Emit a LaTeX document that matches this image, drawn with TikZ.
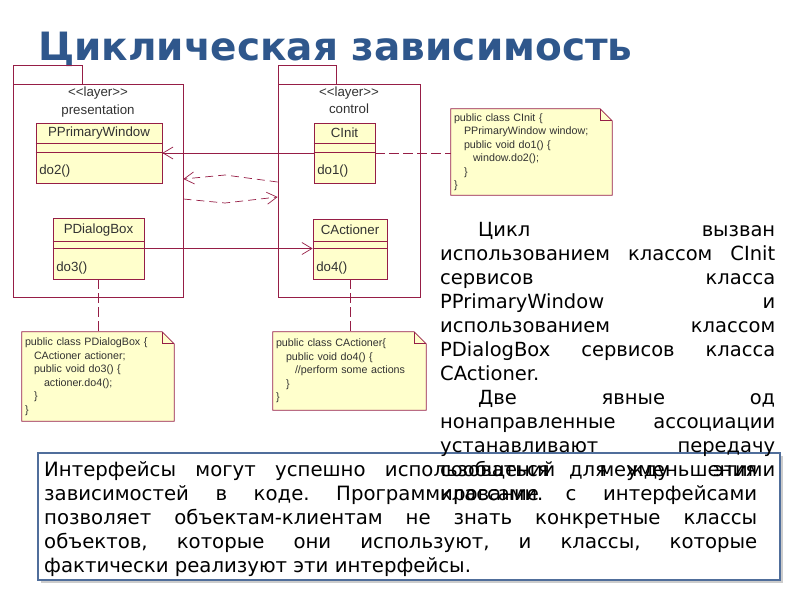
\documentclass[tikz,border=0pt]{standalone}
\usepackage{fontspec}
\setmainfont{DejaVu Sans}
\newfontfamily\umlfont{Liberation Sans}
\usetikzlibrary{arrows.meta,calc,backgrounds,shadows}
\definecolor{titleblue}{RGB}{47,87,140}
\definecolor{umlred}{RGB}{150,30,70}
\definecolor{umlfill}{RGB}{255,255,204}
\definecolor{umltext}{RGB}{50,50,50}
\definecolor{boxblue}{RGB}{80,110,155}
\newcommand{\umlnote}[1]{%
  \begin{scope}[on background layer]
    \filldraw[fill=umlfill,draw=umlred,line width=0.8pt]
      (#1.north west) -- ([xshift=-12pt]#1.north east) -- ([yshift=-12pt]#1.north east)
      -- (#1.south east) -- (#1.south west) -- cycle;
    \draw[umlred,line width=0.8pt] ([xshift=-12pt]#1.north east) -- ([xshift=-12pt,yshift=-12pt]#1.north east) -- ([yshift=-12pt]#1.north east);
  \end{scope}}
\begin{document}
\begin{tikzpicture}[x=1pt,y=-1pt,
  pkg/.style={draw=umlred,line width=0.8pt,inner sep=0pt},
  classbox/.style={draw=umlred,fill=umlfill,line width=0.8pt,inner sep=0pt},
  umlline/.style={draw=umlred,line width=0.8pt},
  classname/.style={font=\umlfont\fontsize{13.3}{15}\selectfont,text=umltext,inner sep=0pt},
  method/.style={classname,anchor=west},
  assoc/.style={draw=umlred,line width=0.7pt,-{Straight Barb[length=10pt,width=12pt]}},
  dep/.style={assoc,dash pattern=on 8pt off 5pt},
  noteanchor/.style={draw=umlred,line width=0.7pt,dash pattern=on 10pt off 4pt},
  note/.style={inner xsep=3pt,inner ysep=0pt,align=left,anchor=center,
    font=\umlfont\fontsize{10.7}{13.5}\selectfont,text=umltext},
  para/.style={anchor=base west,inner sep=0pt}
]
\useasboundingbox (0,0) rectangle (800,600);

% title
\node[anchor=base west,inner sep=0pt,text=titleblue,
  font=\fontsize{39}{41}\selectfont\bfseries] (title) at (38,60) {Циклическая зависимость};

% packages
\node[pkg,minimum width=69,minimum height=19] (prestab) at (47.5,74.5) {};
\node[pkg,minimum width=170,minimum height=213] (pres) at (98,190.5) {};
\node[classname] (preslbl1) at (98,93) {{<}{<}layer{>}{>}};
\node[classname] (preslbl2) at (98,111) {presentation};

\node[pkg,minimum width=58,minimum height=19] (ctrltab) at (307,74.5) {};
\node[pkg,minimum width=142,minimum height=213] (ctrl) at (349,190.5) {};
\node[classname] (ctrllbl1) at (349,93) {{<}{<}layer{>}{>}};
\node[classname] (ctrllbl2) at (349,109) {control};

% classes
\node[classbox,minimum width=126,minimum height=60] (ppw) at (99,153) {};
\draw[umlline] ($(ppw.north west)+(0,21)$) -- ($(ppw.north east)+(0,21)$);
\draw[umlline] ($(ppw.north west)+(0,30)$) -- ($(ppw.north east)+(0,30)$);
\node[classname] (ppwname) at ($(ppw.north)+(0,10.5)$) {PPrimaryWindow};
\node[method] (ppwop) at ($(ppw.west)+(3.5,18)$) {do2()};

\node[classbox,minimum width=91,minimum height=61] (pdb) at (98.5,248.5) {};
\draw[umlline] ($(pdb.north west)+(0,24)$) -- ($(pdb.north east)+(0,24)$);
\draw[umlline] ($(pdb.north west)+(0,31)$) -- ($(pdb.north east)+(0,31)$);
\node[classname] (pdbname) at ($(pdb.north)+(0,12)$) {PDialogBox};
\node[method] (pdbop) at ($(pdb.west)+(3.5,19.5)$) {do3()};

\node[classbox,minimum width=61,minimum height=60] (cinit) at (344.5,153) {};
\draw[umlline] ($(cinit.north west)+(0,21)$) -- ($(cinit.north east)+(0,21)$);
\draw[umlline] ($(cinit.north west)+(0,30)$) -- ($(cinit.north east)+(0,30)$);
\node[classname] (cinitname) at ($(cinit.north)+(0,10.5)$) {CInit};
\node[method] (cinitop) at ($(cinit.west)+(3.5,18)$) {do1()};

\node[classbox,minimum width=74,minimum height=60] (cact) at (350,249) {};
\draw[umlline] ($(cact.north west)+(0,23)$) -- ($(cact.north east)+(0,23)$);
\draw[umlline] ($(cact.north west)+(0,30)$) -- ($(cact.north east)+(0,30)$);
\node[classname] (cactname) at ($(cact.north)+(0,11.5)$) {CActioner};
\node[method] (cactop) at ($(cact.west)+(3.5,19)$) {do4()};

% associations
\draw[assoc] (cinit.west) -- (cinit.west -| ppw.east);
\draw[assoc] (pdb.east) -- (pdb.east -| cact.west);

% package dependencies
\path (ctrl.west) ++(0,-8.5) coordinate (dep1s);
\coordinate (dep1m) at (225,175);
\path (pres.east) ++(0,-11.5) coordinate (dep1e);
\draw[dep] (dep1s) -- (dep1m) -- (dep1e);
\path (pres.east) ++(0,8.5) coordinate (dep2s);
\coordinate (dep2m) at (225,203);
\path (ctrl.west) ++(0,6.5) coordinate (dep2e);
\draw[dep] (dep2s) -- (dep2m) -- (dep2e);

% notes
\node[note,text width=155,minimum height=86] (cinitnote) at (531.5,152) {%
public class CInit \{\\
\hspace*{10pt}PPrimaryWindow window;\\
\hspace*{10pt}public void do1() \{\\
\hspace*{19pt}window.do2();\\
\hspace*{10pt}\}\\
\}};
\umlnote{cinitnote}
\node[note,text width=146,minimum height=89] (pdbnote) at (98,376.5) {%
public class PDialogBox \{\\
\hspace*{9pt}CActioner actioner;\\
\hspace*{9pt}public void do3() \{\\
\hspace*{19pt}actioner.do4();\\
\hspace*{9pt}\}\\
\}};
\umlnote{pdbnote}
\node[note,text width=147,minimum height=78] (cactnote) at (349.5,371) {%
public class CActioner\{\\
\hspace*{10pt}public void do4() \{\\
\hspace*{19pt}//perform some actions\\
\hspace*{10pt}\}\\
\}};
\umlnote{cactnote}

\draw[noteanchor] (cinit.east) -- (cinit.east -| cinitnote.west);
\draw[noteanchor] (pdb.south) -- (pdb.south |- pdbnote.north);
\draw[noteanchor] (cact.south) -- (cact.south |- cactnote.north);

% bottom box
\node[draw=boxblue,line width=2pt,fill=white,minimum width=742,minimum height=127,
  drop shadow={shadow xshift=3pt,shadow yshift=-3pt,fill=black!40}] (ibox) at (409,516.5) {};
\node[para] (itext) at (44,476) {\parbox[t]{713pt}{\fontsize{19.7}{24}\selectfont
  \frenchspacing\tolerance=10000\hbadness=10000\hyphenpenalty=10000\exhyphenpenalty=10000
  \noindent Интерфейсы могут успешно использоваться для уменьшения\linebreak
  зависимостей в коде. Программирование с интерфейсами\linebreak
  позволяет объектам-клиентам не знать конкретные классы\linebreak
  объектов, которые они используют, и классы, которые\linebreak
  фактически реализуют эти интерфейсы.}};

% right text
\node[para] (cycletext) at (440,236) {\parbox[t]{335pt}{\fontsize{19.5}{24}\selectfont
  \frenchspacing\tolerance=10000\hbadness=10000\hyphenpenalty=10000\exhyphenpenalty=10000
  \noindent\hspace*{38pt}Цикл вызван\linebreak
  использованием классом CInit\linebreak
  сервисов класса\linebreak
  PPrimaryWindow и\linebreak
  использованием классом\linebreak
  PDialogBox сервисов класса\linebreak
  CActioner.\par
  \noindent\hspace*{38pt}Две явные од\linebreak
  нонаправленные ассоциации\linebreak
  устанавливают передачу\linebreak
  сообщений между этими\linebreak
  классами.}};
\end{tikzpicture}
\end{document}
